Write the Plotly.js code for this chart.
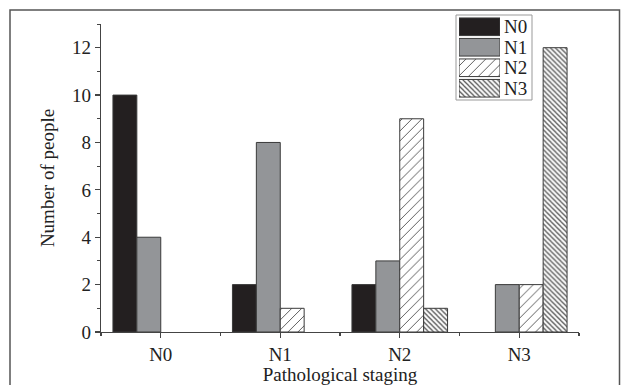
<!DOCTYPE html>
<html>
<head>
<meta charset="utf-8">
<script src="https://cdn.plot.ly/plotly-3.0.1.min.js"></script>
<style>html,body{margin:0;padding:0;background:#fff;}#chart{width:628px;height:385px;}</style>
</head>
<body>
<div id="chart"></div>
<script>
const categories = ['N0', 'N1', 'N2', 'N3'];
const seriesNames = ['N0', 'N1', 'N2', 'N3'];
const seriesN0 = [10, 2, 2, 0];
const seriesN1 = [4, 8, 3, 2];
const seriesN2 = [0, 1, 9, 2];
const seriesN3 = [0, 0, 1, 12];
const yTickVals = [0, 2, 4, 6, 8, 10, 12];

const allSeries = [seriesN0, seriesN1, seriesN2, seriesN3];
const fills = ['#231f20', '#939598', '#ffffff', '#ffffff'];
const shapes = ['', '', '/', '\\'];
const psize = [8, 8, 7, 3.5];
const psol = [0.3, 0.3, 0.13, 0.35];
const outline = '#3a3a3a';
const font = '"Liberation Serif", "Times New Roman", serif';
const fsize = 19;

const traces = allSeries.map((vals, i) => ({
  type: 'bar', x: categories, y: vals, name: seriesNames[i], showlegend: false,
  xaxis: 'x', yaxis: 'y',
  marker: {
    color: fills[i],
    line: {color: outline, width: vals.map(v => v > 0 ? 1 : 0)},
    pattern: {shape: shapes[i], fgcolor: '#505050', bgcolor: '#ffffff', size: psize[i], solidity: psol[i]}
  }
}));

// legend swatches drawn as a small bar subplot
seriesNames.forEach((n, i) => {
  traces.push({
    type: 'bar', orientation: 'h', x: [1], y: [n], offsetgroup: 'legend',
    xaxis: 'x2', yaxis: 'y2', showlegend: false, hoverinfo: 'skip', width: 0.86,
    marker: {
      color: fills[i],
      line: {color: outline, width: 1},
      pattern: {shape: shapes[i], fgcolor: '#505050', bgcolor: '#ffffff', size: psize[i], solidity: psol[i]}
    }
  });
});

// carrier for the boundary tick axis (category index scale)
traces.push({type: 'scatter', mode: 'markers', x: categories.map((c, i) => i), y: categories.map(() => null),
  xaxis: 'x3', yaxis: 'y', showlegend: false, hoverinfo: 'skip'});

const H = 385, W = 628, ml = 101, mr = 49, mt = 10, mb = 53;
const pw = W - ml - mr, ph = H - mt - mb;
const px = v => (v - ml) / pw;
const py = v => (H - mb - v) / ph;

const layout = {
  width: W, height: H,
  margin: {l: ml, r: mr, t: mt, b: mb},
  paper_bgcolor: '#fff', plot_bgcolor: 'rgba(0,0,0,0)',
  barmode: 'group', bargap: 0.2, bargroupgap: 0,
  font: {family: font, color: '#222', size: fsize},
  showlegend: false,
  xaxis: {
    type: 'category', domain: [0, 1], anchor: 'y', range: [-0.5, 3.5],
    showline: true, linecolor: '#444', linewidth: 1.2,
    ticks: 'outside', ticklen: 5, tickcolor: '#444', tickwidth: 1.2,
    showgrid: false, zeroline: false,
    tickfont: {family: font, size: fsize, color: '#222'},
    title: {text: 'Pathological staging', font: {family: font, size: fsize, color: '#222'}, standoff: 4}
  },
  xaxis3: {
    type: 'linear', overlaying: 'x', anchor: 'y', range: [-0.5, 3.5], side: 'bottom',
    tickmode: 'linear', tick0: 0.5, dtick: 1, ticks: 'outside', ticklen: 3, tickcolor: '#444', tickwidth: 1.2,
    showticklabels: false, showline: false, showgrid: false, zeroline: false
  },
  yaxis: {
    domain: [0, py(24)], anchor: 'x', range: [0, 13],
    tickvals: yTickVals,
    showline: true, linecolor: '#444', linewidth: 1.2,
    ticks: 'outside', ticklen: 5, tickcolor: '#444', tickwidth: 1.2,
    minor: {dtick: 1, ticks: 'outside', ticklen: 3, tickcolor: '#444', tickwidth: 1},
    showgrid: false, zeroline: false,
    tickfont: {family: font, size: fsize, color: '#222'},
    title: {text: 'Number of people', font: {family: font, size: fsize, color: '#222'}, standoff: 12}
  },
  xaxis2: {
    domain: [px(459), px(500)], anchor: 'y2', range: [0, 1], fixedrange: true,
    visible: false
  },
  yaxis2: {
    domain: [py(98.5), py(16.5)], anchor: 'x2', range: [3.5, -0.5], fixedrange: true,
    type: 'category', visible: false
  },
  shapes: [
    {type: 'rect', xref: 'paper', yref: 'paper', x0: px(10), x1: px(619.5), y0: py(395), y1: 1,
     line: {color: '#555', width: 1.5}, fillcolor: 'rgba(0,0,0,0)', layer: 'below'},
    {type: 'rect', xref: 'paper', yref: 'paper', x0: px(456), x1: px(532), y0: py(100), y1: py(15),
     line: {color: '#999', width: 1}, fillcolor: '#fff', layer: 'below'}
  ],
  annotations: seriesNames.map(n => ({
    xref: 'paper', yref: 'y2', x: px(502), y: n, xanchor: 'left', yanchor: 'middle',
    text: n, showarrow: false, font: {family: font, size: fsize, color: '#222'}
  }))
};

Plotly.newPlot('chart', traces, layout, {staticPlot: true, displayModeBar: false});
</script>
</body>
</html>
